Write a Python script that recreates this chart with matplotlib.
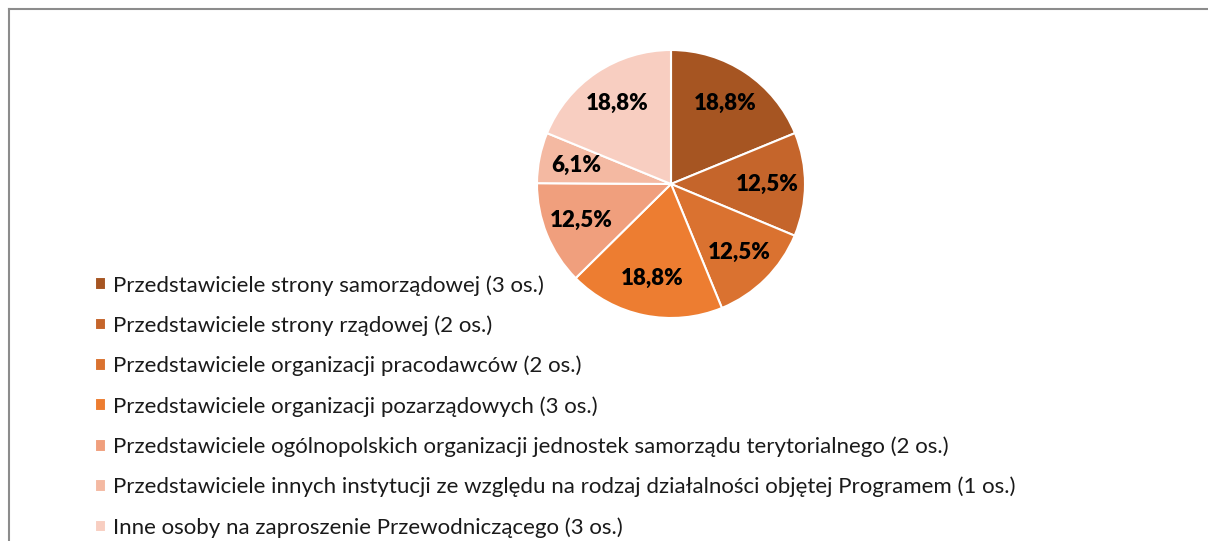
import matplotlib.pyplot as plt
from matplotlib.lines import Line2D

# dane
kategorie = [
    'Przedstawiciele strony samorządowej (3 os.)',
    'Przedstawiciele strony rządowej (2 os.)',
    'Przedstawiciele organizacji pracodawców (2 os.)',
    'Przedstawiciele organizacji pozarządowych (3 os.)',
    'Przedstawiciele ogólnopolskich organizacji jednostek samorządu terytorialnego (2 os.)',
    'Przedstawiciele innych instytucji ze względu na rodzaj działalności objętej Programem (1 os.)',
    'Inne osoby na zaproszenie Przewodniczącego (3 os.)',
]
udzialy = [18.8, 12.5, 12.5, 18.8, 12.5, 6.1, 18.8]
etykiety = ['18,8%', '12,5%', '12,5%', '18,8%', '12,5%', '6,1%', '18,8%']
kolory = ['#A65522', '#C5652B', '#DA7230', '#ED7D31', '#F09F7D', '#F4B9A2', '#F8CEC1']

plt.rcParams['font.family'] = ['Lato', 'DejaVu Sans']

W, H = 1208, 541
fig = plt.figure(figsize=(W / 100, H / 100), dpi=100)

# os wykresu kolowego: srodek (671,184), promien 134 px
cx, cy, r = 671, 184, 134
ax = fig.add_axes([(cx - r) / W, (H - cy - r) / H, 2 * r / W, 2 * r / H])

it = iter(etykiety)
wedges, _, autotexts = ax.pie(
    udzialy, colors=kolory, startangle=90, counterclock=False,
    autopct=lambda p: next(it), pctdistance=0.72,
    wedgeprops=dict(edgecolor='white', linewidth=1.5),
    textprops=dict(fontsize=16, fontweight='heavy', color='black'))
ax.set_xlim(-1, 1)
ax.set_ylim(-1, 1)
ax.axis('off')

fig.legend(wedges, kategorie, loc='upper left',
           bbox_to_anchor=(95 / W, 1 - 275 / H), frameon=False,
           fontsize=16, handlelength=0.5, handleheight=0.5,
           handletextpad=0.32, labelspacing=0.89, borderaxespad=0,
           borderpad=0, labelcolor='#1a1a1a')

# ramka obszaru wykresu
fig.add_artist(Line2D([8.5 / W, 8.5 / W], [0, 1 - 8.5 / H], color='#8c8c8c', lw=1.5))
fig.add_artist(Line2D([8.5 / W, 1], [1 - 8.5 / H, 1 - 8.5 / H], color='#8c8c8c', lw=1.5))

fig.savefig('out.png', dpi=100)
